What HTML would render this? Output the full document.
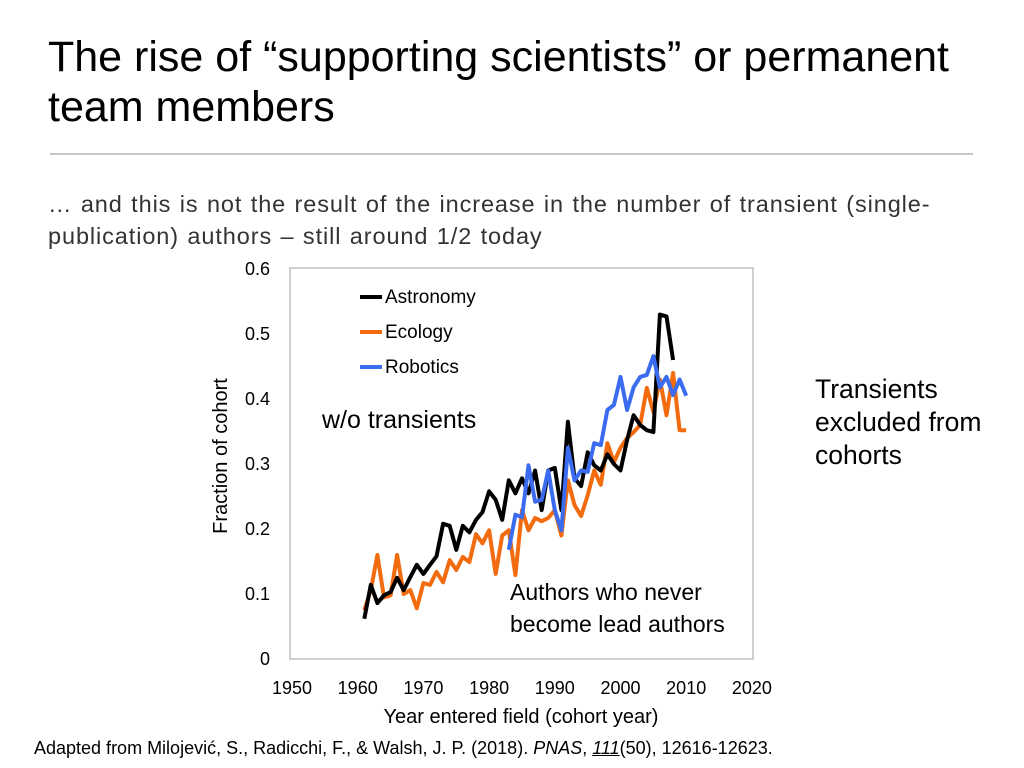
<!DOCTYPE html>
<html><head><meta charset="utf-8"><style>
body{margin:0;width:1024px;height:768px;background:#fff;font-family:"Liberation Sans",sans-serif;position:relative;overflow:hidden}
.t{position:absolute;margin:0;color:#000;white-space:nowrap}
</style></head><body>
<div class="t" style="left:48px;top:32px;font-size:43px;line-height:50px">The rise of “supporting scientists” or permanent<br>team members</div>
<div style="position:absolute;left:50px;top:153px;width:923px;height:2px;background:#c8c8c8"></div>
<div class="t" style="left:48px;top:188px;font-size:23.5px;letter-spacing:0.9px;word-spacing:1px;line-height:32px;color:#333">… and this is not the result of the increase in the number of transient (single-<br>publication) authors – still around 1/2 today</div>
<svg id="chart" width="1024" height="768" style="position:absolute;left:0;top:0"></svg>
<div class="t" style="left:815px;top:373px;font-size:26.5px;line-height:33px">Transients<br>excluded from<br>cohorts</div>
<div class="t" style="left:34px;top:738px;font-size:18px">Adapted from Milojević, S., Radicchi, F., &amp; Walsh, J. P.  (2018). <i>PNAS</i>, <i><u>111</u></i>(50), 12616-12623.</div>
<script>
const xTicks=[1950,1960,1970,1980,1990,2000,2010,2020];
const yTicks=[0,0.1,0.2,0.3,0.4,0.5,0.6];
const yTickLabels=["0","0.1","0.2","0.3","0.4","0.5","0.6"];
const astroStart=1961;
const astronomy=[0.062,0.114,0.086,0.098,0.103,0.125,0.106,0.126,0.145,0.131,0.145,0.158,0.208,0.205,0.168,0.205,0.195,0.214,0.226,0.258,0.245,0.214,0.275,0.255,0.278,0.255,0.29,0.229,0.29,0.294,0.229,0.365,0.278,0.266,0.318,0.298,0.29,0.315,0.3,0.29,0.337,0.375,0.36,0.352,0.349,0.53,0.527,0.46];
const ecoStart=1961;
const ecology=[0.075,0.106,0.16,0.095,0.098,0.16,0.1,0.106,0.078,0.117,0.114,0.134,0.118,0.152,0.137,0.157,0.149,0.192,0.178,0.198,0.131,0.19,0.198,0.129,0.229,0.198,0.217,0.212,0.217,0.229,0.19,0.275,0.237,0.22,0.252,0.29,0.268,0.332,0.303,0.325,0.34,0.349,0.36,0.417,0.38,0.43,0.375,0.44,0.352,0.352];
const robStart=1983;
const robotics=[0.168,0.222,0.218,0.298,0.242,0.245,0.29,0.229,0.198,0.325,0.275,0.29,0.288,0.332,0.329,0.383,0.391,0.434,0.383,0.418,0.434,0.437,0.466,0.418,0.434,0.406,0.43,0.405];
const NS="http://www.w3.org/2000/svg";
const svg=document.getElementById('chart');
const X=v=>292+(v-1950)*6.57;
const Y=v=>659-v*650;
function mk(t,a,txt){const e=document.createElementNS(NS,t);for(const k in a)e.setAttribute(k,a[k]);if(txt!==undefined)e.textContent=txt;svg.appendChild(e);return e;}
const F='"Liberation Sans",sans-serif';
let fr=mk('rect',{x:290,y:268,width:463,height:391,fill:'none',stroke:'#bfbfbf','stroke-width':1.5});

yTicks.forEach((v,i)=>{let t=mk('text',{x:270,y:Y(v)+6,'text-anchor':'end','font-size':18,'font-family':F},yTickLabels[i]);
});
xTicks.forEach(v=>{let t=mk('text',{x:X(v),y:694,'text-anchor':'middle','font-size':18,'font-family':F},String(v));
});
let xt=mk('text',{x:521,y:723,'text-anchor':'middle','font-size':20,'font-family':F},'Year entered field (cohort year)');

let yt=mk('text',{x:0,y:0,'text-anchor':'middle','font-size':20,'font-family':F,transform:'translate(227,456) rotate(-90)'},'Fraction of cohort');

function line(data,start,color,name){const d=data.map((v,i)=>(i?'L':'M')+X(start+i).toFixed(1)+','+Y(v).toFixed(1)).join('');
let p=mk('path',{d:d,fill:'none',stroke:color,'stroke-width':4,'stroke-linejoin':'round'});
}
line(ecology,ecoStart,'#f26b0f','ecology-line');
line(astronomy,astroStart,'#000','astronomy-line');
line(robotics,robStart,'#3b6cf0','robotics-line');
[['Astronomy','#000',297],['Ecology','#f26b0f',332],['Robotics','#3b6cf0',367]].forEach(l=>{
let s=mk('line',{x1:360,x2:382,y1:l[2],y2:l[2],stroke:l[1],'stroke-width':4});

let t=mk('text',{x:385,y:l[2]+6,'font-size':19,'font-family':F},l[0]);
});
let a1=mk('text',{x:322,y:428,'font-size':25,'font-family':F},'w/o transients');

let a2=mk('text',{x:510,y:600,'font-size':23,'font-family':F},'Authors who never');

let a3=mk('text',{x:510,y:632,'font-size':23,'font-family':F},'become lead authors');

</script>
</body></html>
